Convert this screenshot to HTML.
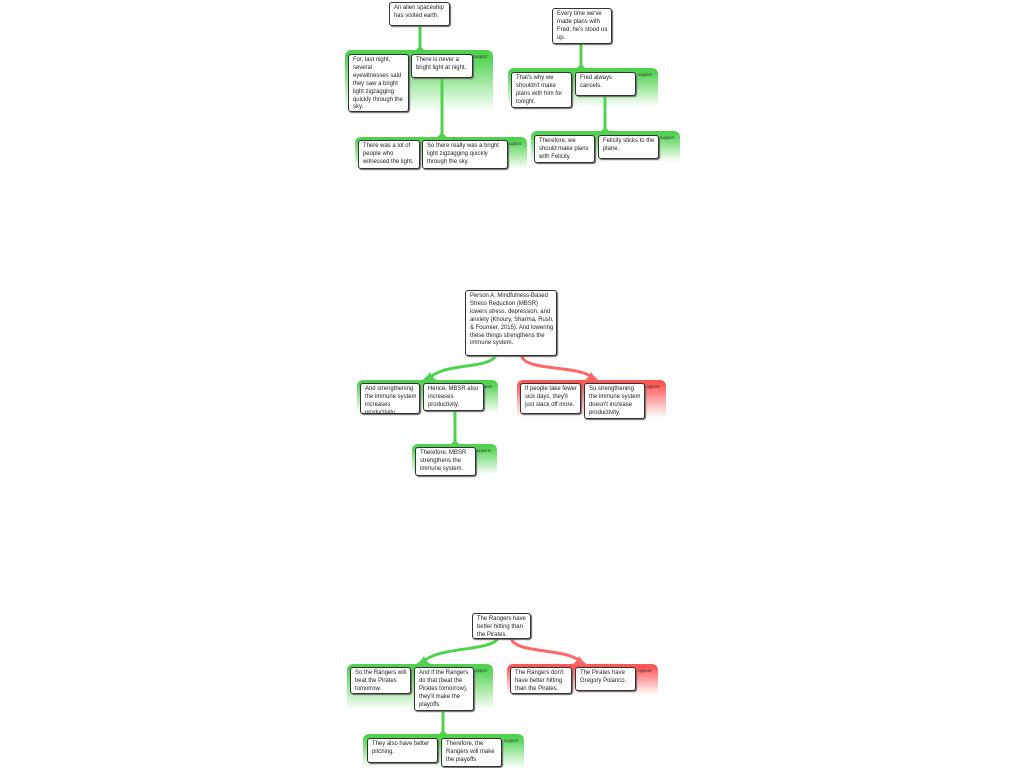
<!DOCTYPE html>
<html><head><meta charset="utf-8"><style>
body{margin:0;width:1024px;height:768px;background:#fff;position:relative;overflow:hidden;font-family:"Liberation Sans",sans-serif}
.g{position:absolute;border-radius:6px 6px 0 0;z-index:1}
.gs{background:linear-gradient(#4fd34f 0,#4fd34f 10%,#fff 100%)}
.go{background:linear-gradient(#f55 0,#f55 10%,#fff 100%)}
.lab{position:absolute;top:4px;right:6px;font-size:4.2px;color:#333}
.b{position:absolute;z-index:3;background:#fff;border:1px solid #333;border-radius:3px;box-shadow:1px 1px 1px #666;font-size:5.95px;line-height:7.9px;color:#222;padding:2px 2px 1px 4px;box-sizing:border-box;overflow:hidden}
svg{position:absolute;left:0;top:0;z-index:2}
</style></head><body>

<div class="g gs" style="left:345px;top:50px;width:148px;height:62px"><span class="lab">support</span></div>
<div class="g gs" style="left:355px;top:137px;width:172px;height:32px"><span class="lab">support</span></div>
<div class="g gs" style="left:508px;top:68px;width:150px;height:39px"><span class="lab">support</span></div>
<div class="g gs" style="left:531px;top:131px;width:149px;height:31px"><span class="lab">support</span></div>
<div class="g gs" style="left:357px;top:380px;width:141px;height:33px"><span class="lab">support</span></div>
<div class="g go" style="left:517px;top:380px;width:149px;height:38px"><span class="lab">oppose</span></div>
<div class="g gs" style="left:412px;top:444px;width:85px;height:31px"><span class="lab">supports</span></div>
<div class="g gs" style="left:347px;top:664px;width:146px;height:46px"><span class="lab">support</span></div>
<div class="g go" style="left:507px;top:664px;width:151px;height:31px"><span class="lab">oppose</span></div>
<div class="g gs" style="left:363px;top:734px;width:161px;height:34px"><span class="lab">support</span></div>

<svg width="1024" height="768" fill="none" stroke-linecap="round">
<g stroke="#4fd34f" stroke-width="3">
<path d="M420 25 V50"/><path d="M442 77 V137"/>
<path d="M581 43 V68"/><path d="M605 95 V131"/>
<path d="M455 410 V444"/><path d="M443 710 V734"/>
<path d="M496 355 C490 370 440 362 428 380"/>
<path d="M498 638 C492 652 432 646 422 664"/>
</g>
<g fill="#4fd34f">
<path d="M414 51 Q420 48 420 42 Q420 48 426 51Z"/><path d="M436 138 Q442 134 442 128 Q442 134 448 138Z"/>
<path d="M575 69 Q581 66 581 60 Q581 66 587 69Z"/><path d="M599 132 Q605 129 605 123 Q605 129 611 132Z"/>
<path d="M449 445 Q455 442 455 436 Q455 442 461 445Z"/><path d="M437 735 Q443 732 443 726 Q443 732 449 735Z"/>
<path d="M421 381 Q427 377 430 372 Q432 378 438 381Z"/><path d="M415 665 Q421 661 424 656 Q426 662 432 665Z"/>
</g>
<g stroke="#f66" stroke-width="3">
<path d="M522 357 C528 372 584 364 594 380"/>
<path d="M512 640 C518 654 574 648 582 664"/>
</g>
<g fill="#f66">
<path d="M600 381 Q594 377 591 372 Q589 378 583 381Z"/><path d="M588 665 Q582 661 579 656 Q577 662 571 665Z"/>
</g>
<g stroke="#f66" stroke-width="1"><path d="M518 356.5 H527"/><path d="M508 639.5 H517"/></g>
</svg>

<div class="b" style="left:389px;top:2px;width:61px;height:24px">An alien spaceship has visited earth.</div>
<div class="b" style="left:348px;top:54px;width:61px;height:58px">For, last night, several eyewitnesses said they saw a bright light zigzagging quickly through the sky.</div>
<div class="b" style="left:411px;top:54px;width:62px;height:24px">There is never a bright light at night.</div>
<div class="b" style="left:358px;top:140px;width:62px;height:29px">There was a lot of people who witnessed the light.</div>
<div class="b" style="left:422px;top:140px;width:86px;height:29px">So there really was a bright light zigzagging quickly through the sky.</div>

<div class="b" style="left:552px;top:8px;width:60px;height:36px">Every time we've made plans with Fred, he's stood us up.</div>
<div class="b" style="left:511px;top:72px;width:61px;height:36px">That's why we shouldn't make plans with him for tonight.</div>
<div class="b" style="left:575px;top:72px;width:61px;height:24px">Fred always cancels.</div>
<div class="b" style="left:534px;top:135px;width:61px;height:28px">Therefore, we should make plans with Felicity.</div>
<div class="b" style="left:598px;top:135px;width:61px;height:24px">Felicity sticks to the plane.</div>

<div class="b" style="left:465px;top:290px;width:92px;height:66px">Person A: Mindfulness-Based Stress Reduction (MBSR) lowers stress, depression, and anxiety (Khoury, Sharma, Rush, &amp; Fournier, 2015). And lowering these things strengthens the immune system.</div>
<div class="b" style="left:360px;top:383px;width:60px;height:31px">And strengthening the immune system increases productivity.</div>
<div class="b" style="left:423px;top:383px;width:61px;height:28px">Hence, MBSR also increases productivity.</div>
<div class="b" style="left:520px;top:383px;width:61px;height:31px">If people take fewer sick days, they'll just slack off more.</div>
<div class="b" style="left:584px;top:383px;width:61px;height:36px">So strengthening the immune system doesn't increase productivity.</div>
<div class="b" style="left:415px;top:447px;width:61px;height:29px">Therefore, MBSR strengthens the immune system.</div>

<div class="b" style="left:472px;top:613px;width:59px;height:26px">The Rangers have better hitting than the Pirates.</div>
<div class="b" style="left:350px;top:667px;width:61px;height:27px">So the Rangers will beat the Pirates tomorrow.</div>
<div class="b" style="left:414px;top:667px;width:60px;height:44px">And if the Rangers do that (beat the Pirates tomorrow), they'll make the playoffs</div>
<div class="b" style="left:510px;top:667px;width:62px;height:27px">The Rangers don't have better hitting than the Pirates.</div>
<div class="b" style="left:575px;top:667px;width:61px;height:24px">The Pirates have Gregory Polanco.</div>
<div class="b" style="left:367px;top:738px;width:71px;height:25px">They also have better pitching.</div>
<div class="b" style="left:441px;top:738px;width:61px;height:29px">Therefore, the Rangers will make the playoffs</div>
</body></html>
